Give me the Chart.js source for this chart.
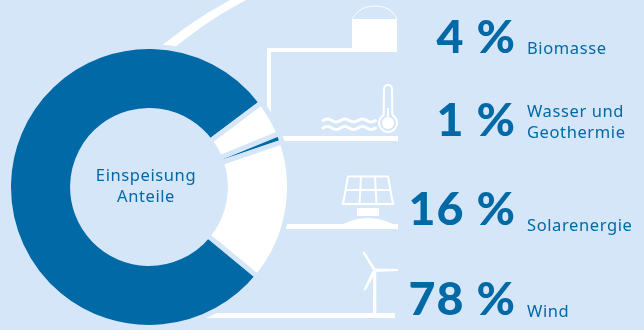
<!DOCTYPE html>
<html lang="de">
<head>
<meta charset="utf-8">
<title>Einspeisung Anteile</title>
<script src="https://cdn.jsdelivr.net/npm/chart.js@4/dist/chart.umd.min.js"></script>
<style>
  html, body { margin: 0; padding: 0; background: #d5e6f8; }
  canvas { display: block; }
</style>
</head>
<body>
<canvas id="grafik" width="644" height="330"></canvas>
<script>
// Werte in Zeichenreihenfolge (im Uhrzeigersinn ab Wind)
const kategorien = ['Wind', 'Biomasse', 'Wasser und Geothermie', 'Solarenergie'];
const anteile = [78, 4, 1, 16];
const farben = ['#0069a6', '#ffffff', '#0069a6', '#ffffff'];
const mitteText = ['Einspeisung', 'Anteile'];

const BLAU = '#0069a6';
const WEISS = '#ffffff';
const HINTERGRUND = '#d5e6f8';

// Beschriftung rechts: Prozentwert, Zeilen, Grundlinien
const beschriftungen = [
  { index: 1, zeilen: ['Biomasse'], yWert: 53, yText: [54] },
  { index: 2, zeilen: ['Wasser und', 'Geothermie'], yWert: 136, yText: [117, 138] },
  { index: 3, zeilen: ['Solarenergie'], yWert: 225, yText: [231] },
  { index: 0, zeilen: ['Wind'], yWert: 315, yText: [317] },
];

function polygon(ctx, punkte) {
  ctx.beginPath();
  punkte.forEach(([x, y], i) => (i ? ctx.lineTo(x, y) : ctx.moveTo(x, y)));
  ctx.closePath();
  ctx.fill();
}

function polygonRand(ctx, punkte) {
  ctx.beginPath();
  punkte.forEach(([x, y], i) => (i ? ctx.lineTo(x, y) : ctx.moveTo(x, y)));
  ctx.closePath();
  ctx.stroke();
}

// Linien laufen unter den Ring, dessen Rand schneidet sie ab
function zeichneLinien(ctx) {
  ctx.fillStyle = WEISS;
  ctx.beginPath();
  ctx.moveTo(145, 60);
  ctx.quadraticCurveTo(185, 24, 230, 0);
  ctx.lineTo(246, 0);
  ctx.quadraticCurveTo(200, 24, 160, 60);
  ctx.closePath();
  ctx.fill();
  polygon(ctx, [[267, 48], [397, 48], [397, 52], [271, 52], [271, 135], [267, 135]]);
  ctx.fillRect(265, 136, 133, 5);
  ctx.fillRect(270, 224, 128, 5);
  ctx.fillRect(190, 313, 205, 5);
}

function zeichneTank(ctx) {
  ctx.fillStyle = WEISS;
  ctx.strokeStyle = WEISS;
  ctx.beginPath();
  ctx.moveTo(352, 19);
  ctx.lineTo(397, 19);
  ctx.lineTo(397, 49);
  ctx.quadraticCurveTo(375, 52, 352, 49);
  ctx.closePath();
  ctx.fill();
  ctx.lineWidth = 1;
  ctx.beginPath();
  ctx.moveTo(352, 19);
  ctx.bezierCurveTo(358, 9, 366, 6, 375, 6);
  ctx.bezierCurveTo(384, 6, 392, 9, 397, 19);
  ctx.stroke();
}

function zeichneThermometer(ctx) {
  ctx.strokeStyle = WEISS;
  ctx.fillStyle = WEISS;
  ctx.lineWidth = 2;
  ctx.beginPath();
  ctx.arc(388, 123, 9, -Math.PI / 2 + 0.5, -Math.PI / 2 - 0.5);
  ctx.lineTo(384, 89);
  ctx.arc(388, 89, 4, Math.PI, 0);
  ctx.lineTo(392.3, 115);
  ctx.stroke();
  ctx.beginPath();
  ctx.arc(388, 123, 6, 0, Math.PI * 2);
  ctx.fill();
  ctx.fillRect(387, 108, 2, 12);
  // Wellen
  ctx.lineWidth = 3;
  ctx.lineCap = 'round';
  [120.5, 128].forEach((y) => {
    const p = 17.5;
    ctx.beginPath();
    ctx.moveTo(323, y);
    for (let i = 0; i < 3; i++) {
      const x = 323 + i * p;
      ctx.quadraticCurveTo(x + p / 4, y - 3, x + p / 2, y);
      ctx.quadraticCurveTo(x + (3 * p) / 4, y + 3, x + p, y);
    }
    ctx.stroke();
  });
  ctx.lineCap = 'butt';
}

function zeichneSolar(ctx) {
  ctx.strokeStyle = WEISS;
  ctx.fillStyle = WEISS;
  ctx.lineWidth = 2;
  polygonRand(ctx, [[348, 176.5], [388, 176.5], [393, 204], [343, 204]]);
  ctx.beginPath();
  ctx.moveTo(345.5, 190);
  ctx.lineTo(390.5, 190);
  ctx.moveTo(361, 176.5);
  ctx.lineTo(359.5, 204);
  ctx.moveTo(375, 176.5);
  ctx.lineTo(376.5, 204);
  ctx.stroke();
  ctx.fillRect(357, 208, 22, 8);
  ctx.beginPath();
  ctx.moveTo(343, 224);
  ctx.quadraticCurveTo(368, 212, 393, 224);
  ctx.closePath();
  ctx.fill();
}

function zeichneWindrad(ctx) {
  ctx.fillStyle = WEISS;
  polygon(ctx, [[373.2, 272], [376.2, 272], [376.4, 313], [373, 313]]);
  polygon(ctx, [[362.5, 252.5], [364.5, 251.5], [375.5, 269], [373.5, 271]]);
  polygon(ctx, [[375, 268.5], [398, 269], [398, 271], [375, 272]]);
  polygon(ctx, [[373, 270], [376, 272], [365.5, 290.5], [363.5, 289.5]]);
}

const dekoration = {
  id: 'dekoration',
  beforeDatasetsDraw(chart) {
    const { ctx } = chart;
    ctx.save();
    zeichneLinien(ctx);
    zeichneTank(ctx);
    zeichneThermometer(ctx);
    zeichneSolar(ctx);
    zeichneWindrad(ctx);
    ctx.restore();
  },
  afterDraw(chart) {
    const { ctx } = chart;
    ctx.save();
    ctx.fillStyle = BLAU;
    ctx.textBaseline = 'alphabetic';

    // Text im Ring
    ctx.font = '400 16.5px "Noto Sans"';
    ctx.letterSpacing = '0.6px';
    ctx.textAlign = 'center';
    ctx.fillText(mitteText[0], 146, 181);
    ctx.fillText(mitteText[1], 146, 202);

    beschriftungen.forEach((b) => {
      ctx.font = '900 46.5px Lato';
      ctx.letterSpacing = '1px';
      ctx.textAlign = 'right';
      ctx.fillText(`${anteile[b.index]} %`, 516, b.yWert);

      ctx.font = '400 16.5px "Noto Sans"';
      ctx.letterSpacing = '0.6px';
      ctx.textAlign = 'left';
      b.zeilen.forEach((zeile, i) => ctx.fillText(zeile, 527, b.yText[i]));
    });
    ctx.restore();
  },
};

new Chart(document.getElementById('grafik'), {
  type: 'doughnut',
  data: {
    labels: kategorien,
    datasets: [
      {
        data: anteile,
        backgroundColor: farben,
        // Rand in Hintergrundfarbe erzeugt die Fugen zwischen den Segmenten
        borderColor: HINTERGRUND,
        borderWidth: 5,
        borderJoinStyle: 'miter',
      },
    ],
  },
  options: {
    responsive: false,
    animation: false,
    rotation: 129.5,
    radius: 140.5,
    cutout: '54.4%',
    layout: { padding: { left: 0, right: 346, top: 44, bottom: 0 } },
    plugins: {
      legend: { display: false },
      tooltip: { enabled: false },
    },
  },
  plugins: [dekoration],
});
</script>
</body>
</html>
